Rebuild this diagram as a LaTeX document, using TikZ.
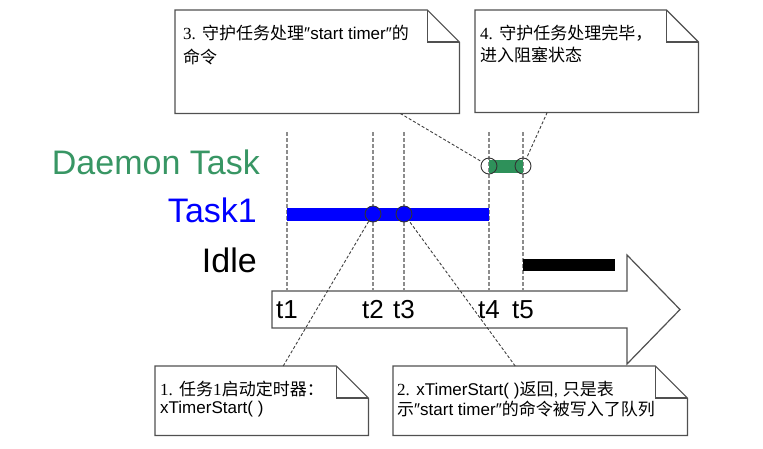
\documentclass[tikz,border=0pt]{standalone}
\usepackage{fontspec}
\setmainfont{Liberation Sans}
\newfontfamily\cjk{Noto Sans CJK SC}
\newfontfamily\numf{Liberation Serif}
\usetikzlibrary{positioning}
\definecolor{dmn}{RGB}{46,145,90}
\definecolor{dmntxt}{RGB}{56,150,100}
\definecolor{edge}{RGB}{80,80,80}
\newcommand\zh[1]{{\cjk #1}}
\newcommand\nr[1]{{\numf #1}}
\newcommand\foldnote[1]{%
  \draw[notel] (#1.north west) -- ([xshift=-32pt]#1.north east) -- ([yshift=-32pt]#1.north east)
    -- (#1.south east) -- (#1.south west) -- cycle;
  \draw[notel,fill=none] ([xshift=-32pt]#1.north east) |- ([yshift=-32pt]#1.north east);}

\begin{document}
\begin{tikzpicture}[x=1pt,y=-1pt,
  notebox/.style 2 args={minimum width=#1,minimum height=#2,inner sep=0,anchor=north west},
  notel/.style={draw=edge,line width=1.2pt,fill=white},
  notetxt/.style={anchor=north west,inner sep=0,align=left},
  tick/.style={draw=black!45,line width=2.1pt,dash pattern=on 3.5pt off 2.5pt},
  conn/.style={draw=black!75,line width=0.9pt,dash pattern=on 3pt off 2pt},
  bar/.style={line width=13pt},
  ev/.style={circle,draw=black!80,line width=0.9pt,minimum size=16pt,inner sep=0},
  lane/.style={anchor=base east,inner sep=0,font=\fontsize{34}{40}\selectfont},
  tlab/.style={anchor=base,inner sep=0,font=\fontsize{26}{30}\selectfont}]
  \fill[white] (0,0) rectangle (763,448);
  \useasboundingbox (0,0) rectangle (763,448);
  \draw[draw=edge,line width=1.2pt,fill=white] (272,291) -- (627,291) -- (627,255) -- (680,309.5)
    -- (627,364) -- (627,328) -- (272,328) -- cycle;
  \foreach \n/\x in {1/287,2/373,3/404,4/489,5/523} {
    \coordinate (t\n) at (\x,132); \coordinate (b\n) at (\x,291);
    \draw[tick] (t\n) -- (b\n);
    \node[tlab] (l\n) at ([yshift=-27pt]b\n) {t\n};}
  \node[lane,text=dmntxt] (ldmn) at (260,174) {Daemon Task};
  \node[lane,text=blue] (ltask) at (257,222) {Task1};
  \node[lane] (lidle) at (257,272) {Idle};
  \draw[bar,blue] (287,214) -- (489,214);
  \draw[bar,dmn] (489,166) -- (523,166);
  \draw[bar,line width=12pt] (523,265) -- (615,265);
  \node[ev,fill=blue] (c2) at (373,214) {};
  \node[ev,fill=blue] (c3) at (404,214) {};
  \node[ev] (c4) at (489,166) {};
  \node[ev] (c5) at (523,166) {};
  \node[notebox={284pt}{103pt}] (n3) at (175,10) {};
  \node[notebox={223pt}{102pt}] (n4) at (475,10) {};
  \node[notebox={213pt}{69pt}] (n1) at (155,366) {};
  \node[notebox={294pt}{69pt}] (n2) at (393,366) {};
  \foreach \n in {1,...,4} {\foldnote{n\n}}
  \node[notetxt,font=\fontsize{17}{24}\selectfont] (n3t) at ([shift={(8pt,-15pt)}]n3.north west)
    {\nr{3.} \zh{守护任务处理}″start timer″\zh{的}\\\zh{命令}};
  \node[notetxt,font=\fontsize{17}{22}\selectfont] (n4t) at ([shift={(5pt,-15pt)}]n4.north west)
    {\nr{4.} \zh{守护任务处理完毕，}\\\zh{进入阻塞状态}};
  \node[notetxt,font=\fontsize{17}{18}\selectfont] (n1t) at ([shift={(5pt,-15pt)}]n1.north west)
    {\nr{1.} \zh{任务}\nr{1}\zh{启动定时器：}\\xTimerStart( )};
  \node[notetxt,font=\fontsize{17}{20}\selectfont] (n2t) at ([shift={(4pt,-15pt)}]n2.north west)
    {\nr{2.} xTimerStart( )\zh{返回}, \zh{只是表}\\\zh{示}″start timer″\zh{的命令被写入了队列}};
  \draw[conn] ([xshift=83pt]n3.south) -- (c4);
  \draw[conn] ([xshift=-39.5pt]n4.south) -- (c5);
  \draw[conn] ([xshift=21.5pt]n1.north) -- (c2);
  \draw[conn] ([xshift=-25pt]n2.north) -- (c3);
\end{tikzpicture}
\end{document}
